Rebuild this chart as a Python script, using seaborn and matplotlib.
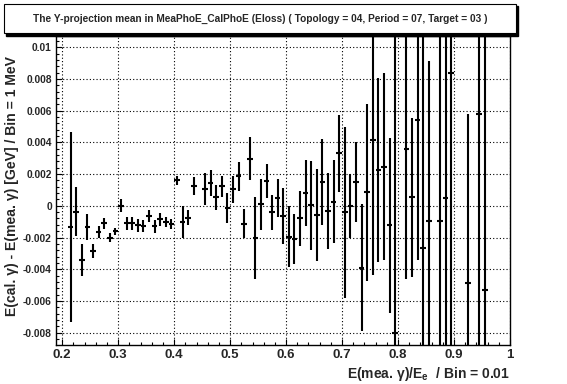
import numpy as np
import pandas as pd
import matplotlib
matplotlib.use("Agg")
import matplotlib.pyplot as plt
import seaborn as sns
from matplotlib.patches import Rectangle
from matplotlib.ticker import MultipleLocator

# bin centres (bin width 0.01) and Y-projection means with errors
x_centre = [0.215, 0.225, 0.235, 0.245, 0.255, 0.265, 0.275, 0.285, 0.295, 0.305,
            0.315, 0.325, 0.335, 0.345, 0.355, 0.365, 0.375, 0.385, 0.395, 0.405,
            0.415, 0.425, 0.435, 0.455, 0.465, 0.475, 0.485, 0.495, 0.505, 0.515,
            0.525, 0.535, 0.545, 0.555, 0.565, 0.575, 0.585, 0.595, 0.605, 0.615,
            0.625, 0.635, 0.645, 0.655, 0.665, 0.675, 0.685, 0.695, 0.705, 0.715,
            0.725, 0.735, 0.745, 0.755, 0.765, 0.775, 0.785, 0.795, 0.815, 0.825,
            0.835, 0.845, 0.855, 0.875, 0.885, 0.895, 0.925, 0.945, 0.955]
y_mean = [-0.00134, -0.00036, -0.0034, -0.00134, -0.00284, -0.00166, -0.0011, -0.0020, -0.0016, 0.0,
          -0.0011, -0.0011, -0.00124, -0.00128, -0.00065, -0.0013, -0.00086, -0.00103, -0.00116, 0.0016,
          -0.0010, -0.00074, 0.00124, 0.00107, 0.00143, 0.00053, 0.00122, -0.00013, 0.00103, 0.00185,
          -0.00112, 0.00297, -0.00204, 0.0001, 0.00158, -0.00042, 0.0005, -0.00063, -0.00194, -0.0021,
          -0.0008, 0.00082, 0.00002, -0.0006, 0.0015, -0.0003, 0.00027, 0.0033, -0.0004, 0.0,
          0.0015, -0.0039, 0.00084, 0.00416, 0.00225, 0.00246, -0.00124, -0.00803, 0.0036, 0.00053,
          0.0054, -0.00265, -0.00095, -0.00097, 0.00049, 0.0084, -0.0049, 0.00579, -0.00534]
y_err = [0.0060, 0.00153, 0.0010, 0.0008, 0.00043, 0.0004, 0.00034, 0.0003, 0.00022, 0.0004,
         0.0004, 0.0004, 0.0004, 0.0004, 0.0004, 0.0004, 0.0004, 0.0003, 0.0003, 0.0003,
         0.0010, 0.0005, 0.00056, 0.0010, 0.0008, 0.00077, 0.00066, 0.00093, 0.00087, 0.00093,
         0.00093, 0.00136, 0.0026, 0.0016, 0.00107, 0.0011, 0.0012, 0.00176, 0.0019, 0.0016,
         0.00174, 0.0021, 0.0028, 0.0029, 0.0027, 0.0024, 0.0026, 0.00245, 0.0054, 0.0020,
         0.0025, 0.0040, 0.0056, 0.0085, 0.0058, 0.0059, 0.0055, 0.021, 0.0082, 0.0050,
         0.0088, 0.016, 0.0101, 0.013, 0.012, 0.018, 0.0107, 0.016, 0.017]
bin_half = 0.005

title = "The Y-projection mean in MeaPhoE_CalPhoE (Eloss) ( Topology = 04, Period = 07, Target = 03 )"
x_label = r"E(mea. γ)/E$_{\mathregular{e}}$  / Bin = 0.01"
y_label = "E(cal. γ) - E(mea. γ) [GeV] / Bin = 1 MeV"

df = pd.DataFrame({"x": x_centre, "y": y_mean, "err": y_err})

sns.set_theme(style="white")
plt.rcParams["font.family"] = ["Liberation Sans", "DejaVu Sans"]
plt.rcParams["font.weight"] = "bold"
plt.rcParams["mathtext.default"] = "regular"
plt.rcParams["xtick.direction"] = "in"
plt.rcParams["ytick.direction"] = "in"

W, H = 567.0, 384.0
fig = plt.figure(figsize=(5.67, 3.84), dpi=100)
ax = fig.add_axes([0.0988, 0.1016, 0.8007, 0.8034])

ax.errorbar(df["x"], df["y"], yerr=df["err"], xerr=bin_half, fmt="none",
            ecolor="black", elinewidth=1.5, capsize=0)

ax.set_xlim(0.189, 1.0)
ax.set_ylim(-0.00878, 0.01068)

ax.xaxis.set_minor_locator(MultipleLocator(0.02))
ax.yaxis.set_minor_locator(MultipleLocator(0.0004))
ax.set_xticks(np.arange(0.2, 1.01, 0.1))
ax.set_xticklabels(["0.2", "0.3", "0.4", "0.5", "0.6", "0.7", "0.8", "0.9", "1"],
                   fontsize=9.5, fontweight="bold")
yt = np.arange(-0.008, 0.0101, 0.002)
ax.set_yticks(yt)
ax.set_yticklabels(["%g" % round(v, 3) if abs(v) > 1e-9 else "0" for v in yt],
                   fontsize=7.4, fontweight="bold")

ax.tick_params(axis="both", which="major", length=4, width=0.8, color="black",
               bottom=True, left=True, top=False, right=False, pad=3)
ax.tick_params(axis="both", which="minor", length=2, width=0.8, color="black",
               bottom=True, left=True, top=False, right=False)

ax.grid(True, which="major", linestyle=(0, (1, 2)), linewidth=0.8, color="black")
for s in ax.spines.values():
    s.set_color("black")
    s.set_linewidth(1.0)

# axis titles placed ROOT-style
fig.text(510 / W, 1 - 374 / H, x_label, ha="right", va="center",
         fontsize=10, fontweight="bold")
fig.text(12 / W, 1 - 186.5 / H, y_label, ha="center", va="center", rotation=90,
         fontsize=10.1, fontweight="bold")

# title box with shadow
fig.patches.append(Rectangle((6 / W, 1 - 36 / H), 512 / W, 30 / H, transform=fig.transFigure,
                             facecolor="black", edgecolor="black", zorder=5))
fig.patches.append(Rectangle((4 / W, 1 - 33 / H), 512 / W, 29 / H, transform=fig.transFigure,
                             facecolor="white", edgecolor="black", linewidth=0.8, zorder=6))
fig.text(260 / W, 1 - 18.5 / H, title, ha="center", va="center", fontsize=7.3,
         fontweight="bold", zorder=7)

fig.savefig("out.png", dpi=100, facecolor="white")
